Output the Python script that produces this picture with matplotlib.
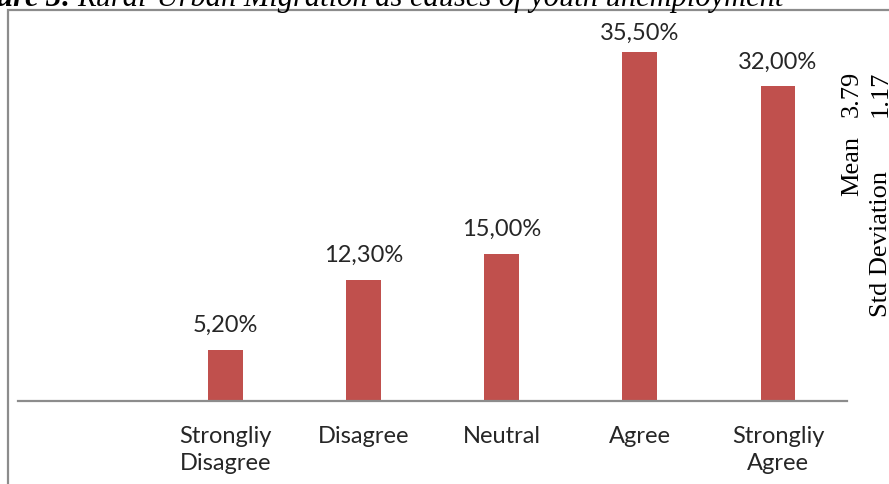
import matplotlib
matplotlib.use("Agg")
import matplotlib.pyplot as plt
from matplotlib.patches import Rectangle

# responses to "Rural-Urban Migration as causes of youth unemployment"
categories = ["", "Strongliy\nDisagree", "Disagree", "Neutral", "Agree", "Strongliy\nAgree"]
shares = [None, 5.2, 12.3, 15.0, 35.5, 32.0]
share_labels = ["", "5,20%", "12,30%", "15,00%", "35,50%", "32,00%"]
mean_value = "3.79"
std_value = "1.17"

W, H = 889, 485
BAR_RED = "#C0504D"
GREY = "#8C8C8C"
TEXT = "#262626"
PX_PER_UNIT = 9.83        # vertical pixels per percentage point
LABEL_GAP = 19 / PX_PER_UNIT
LABEL_CEIL = 36.8         # labels are kept inside the plot area

fig = plt.figure(figsize=(W / 100, H / 100), dpi=100)

# frame round the chart, runs off the right and bottom edges
fig.patches.append(Rectangle((8 / W, -0.1), 1.2, (H - 11) / H + 0.1,
                             transform=fig.transFigure, fill=False,
                             edgecolor=GREY, linewidth=1.6, zorder=0))

ax = fig.add_axes([18 / W, 83 / H, 829 / W, 391 / H])
xs = list(range(len(categories)))
bx = [x for x, v in zip(xs, shares) if v is not None]
bv = [v for v in shares if v is not None]
ax.bar(bx, bv, width=0.25, color=BAR_RED, zorder=2)

for x, v, lab in zip(xs, shares, share_labels):
    if v is None:
        continue
    ax.text(x, min(v + LABEL_GAP, LABEL_CEIL), lab, ha="center",
            va="baseline", fontsize=17, family="Lato", color=TEXT)

ax.set_xlim(-0.5, len(categories) - 0.5)
ax.set_ylim(0, 391 / PX_PER_UNIT)
ax.set_xticks(xs)
ax.set_xticklabels(categories, fontsize=17, family="Lato", color=TEXT,
                   linespacing=1.4, va="top")
ax.tick_params(axis="x", length=0, pad=17)
ax.set_yticks([])
for side in ["left", "right", "top"]:
    ax.spines[side].set_visible(False)
ax.spines["bottom"].set_color(GREY)
ax.spines["bottom"].set_linewidth(1.6)
ax.patch.set_alpha(0)

# caption cut by the top edge
cap_y = (H - 6) / H
fig.text(72 / W, cap_y, "Figure 3:", ha="right", va="baseline",
         family="Liberation Serif", style="italic", weight="bold",
         fontsize=22, color="black")
fig.text(77 / W, cap_y, "Rural-Urban Migration as causes of youth unemployment",
         ha="left", va="baseline", family="Liberation Serif", style="italic",
         fontsize=22, color="black")

# summary statistics, rotated at the right edge
stat = dict(rotation=90, ha="center", va="bottom", family="Liberation Serif",
            fontsize=19, color="black")
fig.text(852 / W, (H - 196) / H, "Mean", **stat)
fig.text(852 / W, (H - 117) / H, mean_value, **stat)
fig.text(881 / W, (H - 317) / H, "Std Deviation", **stat)
fig.text(881 / W, (H - 117) / H, std_value, **stat)

fig.savefig("out.png", dpi=100)
